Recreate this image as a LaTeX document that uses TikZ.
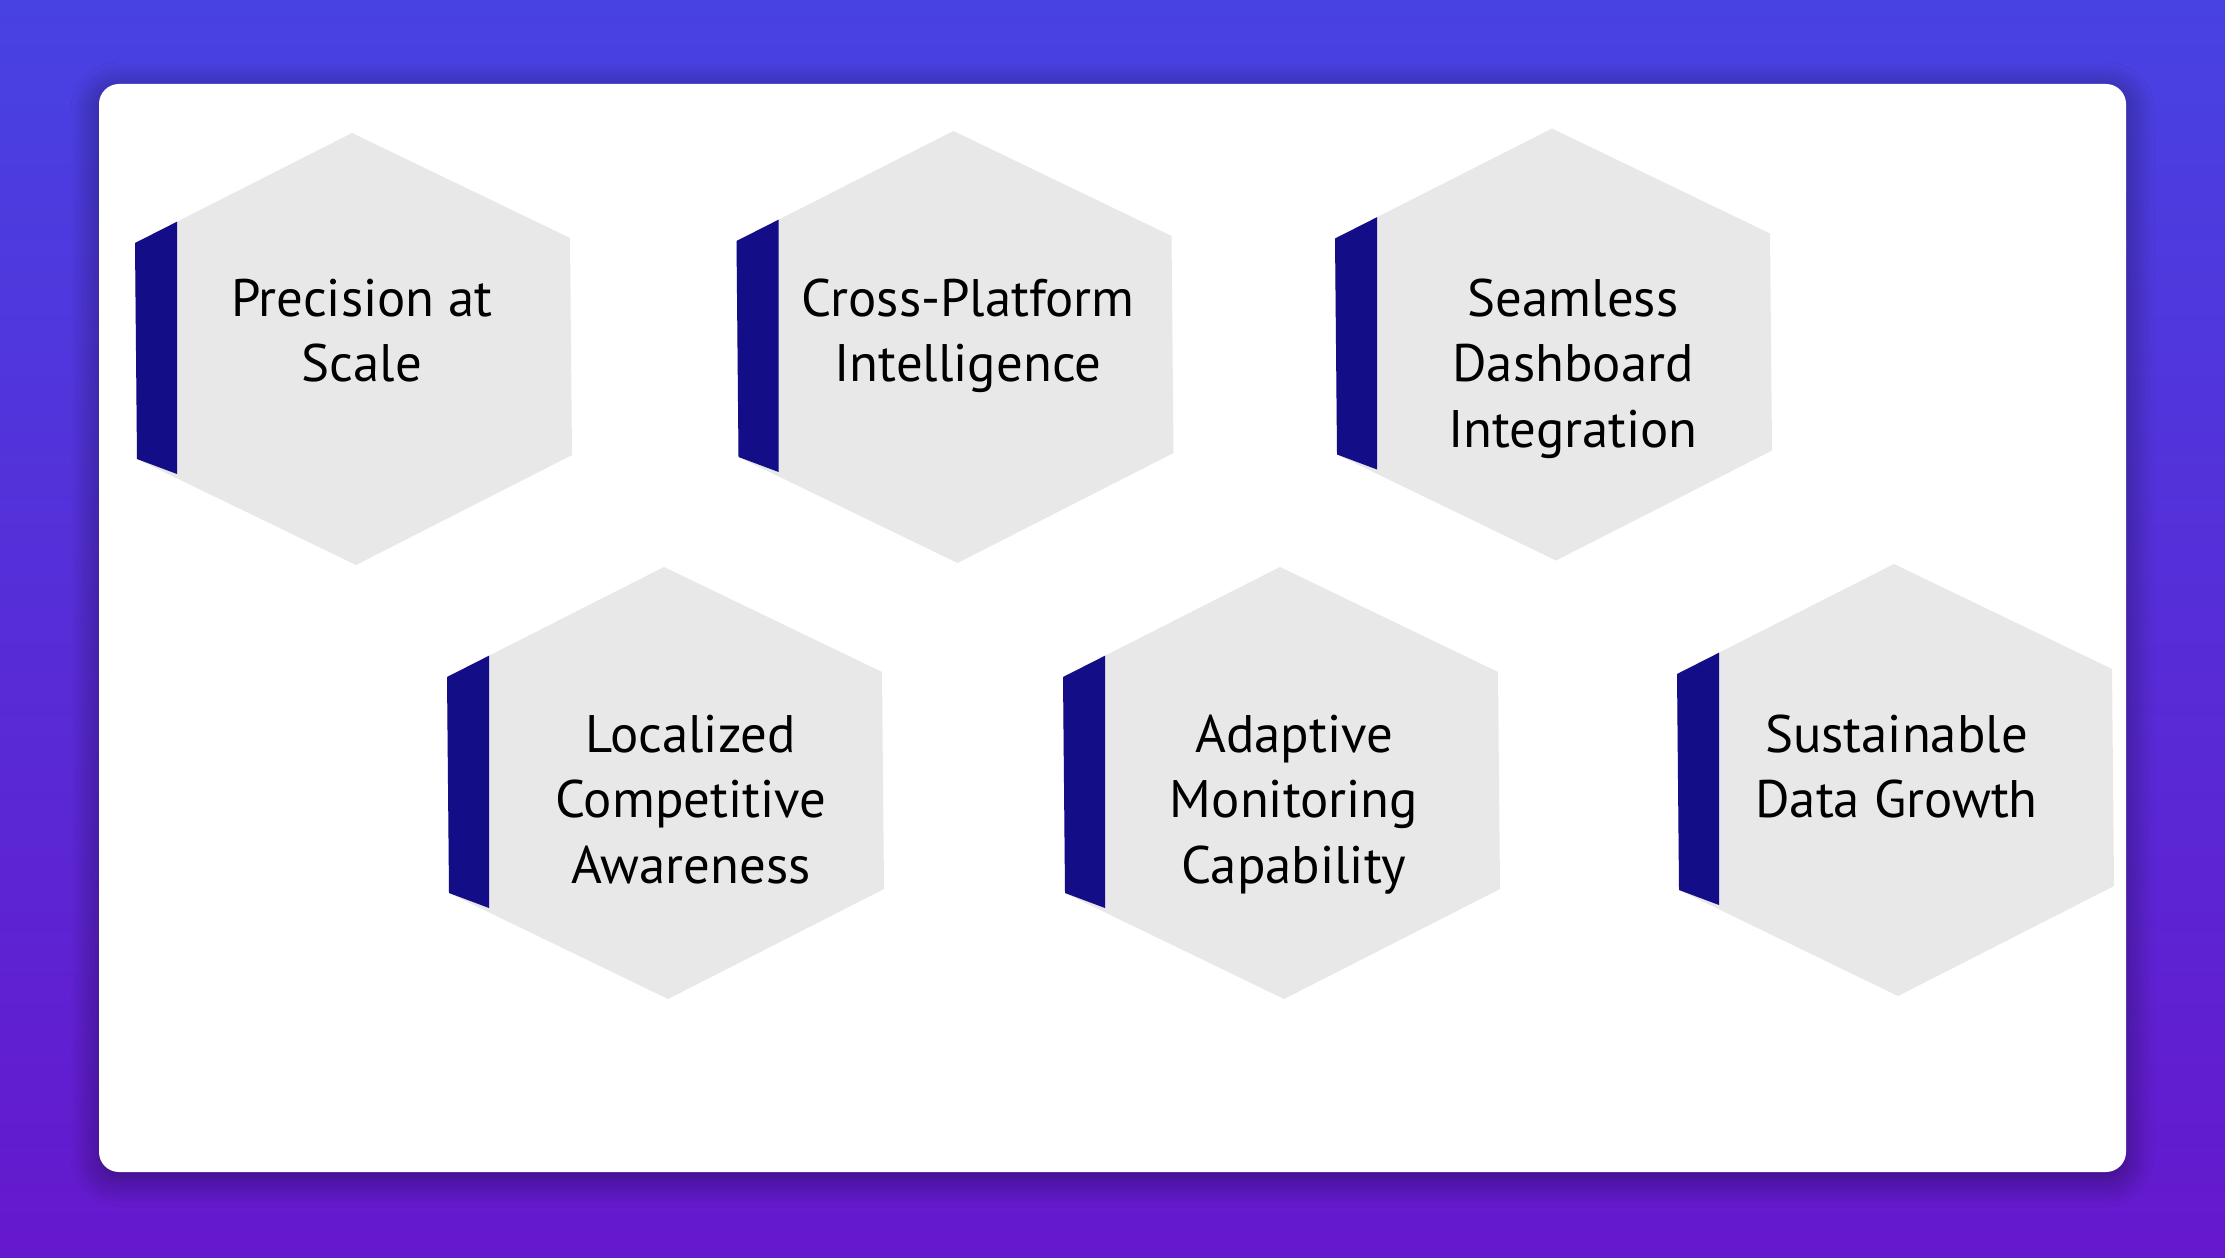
\documentclass[tikz,border=0pt]{standalone}
\usepackage{fontspec}
\setmainfont{PT Sans}
\usetikzlibrary{shadows.blur}
\definecolor{bgtop}{RGB}{72,66,226}
\definecolor{bgbot}{RGB}{101,24,205}
\definecolor{hexfill}{RGB}{232,232,232}
\definecolor{barblue}{RGB}{20,13,136}
\tikzset{
  hexshape/.style={fill=hexfill},
  barshape/.style={fill=barblue},
  hextext/.style={align=center, inner sep=0pt, anchor=base, text=black,
    font=\fontsize{26.4pt}{32.85pt}\selectfont},
  cardshape/.style={fill=white, rounded corners=10pt,
    blur shadow={shadow xshift=0pt, shadow yshift=-3pt, shadow blur radius=14pt, shadow opacity=45, shadow blur steps=14}}
}
\newcommand{\hexitem}[2]{%
  \begin{scope}[shift={(#1,#2)}]
    \fill[hexshape] (0,0) -- (217,-110) -- (435,-5) -- (437,212) -- (221,322) -- (2,216) -- cycle;
    \fill[barshape] (0,0) -- (42,-21.3) -- (42,231) -- (2,216) -- cycle;
  \end{scope}}
\begin{document}
\begin{tikzpicture}[x=0.5pt,y=-0.5pt]
\useasboundingbox (0,0) rectangle (2225,1257);
\shade[top color=bgtop, bottom color=bgbot] (0,0) rectangle (2225,1257);
\fill[cardshape] (99,84) rectangle (2126,1172);
\hexitem{135}{243}
\hexitem{736.5}{241}
\hexitem{1335}{238.5}
\hexitem{447}{677}
\hexitem{1063}{677}
\hexitem{1677}{674}
% anchor=base is the baseline of the last line
\node[hextext] (t1) at (362,381.7) {Precision at\\Scale};
\node[hextext] (t2) at (968,381.7) {Cross-Platform\\Intelligence};
\node[hextext] (t3) at (1573,447.4) {Seamless\\Dashboard\\Integration};
\node[hextext] (t4) at (691,883.4) {Localized\\Competitive\\Awareness};
\node[hextext] (t5) at (1294,883.4) {Adaptive\\Monitoring\\Capability};
\node[hextext] (t6) at (1896.5,817.7) {Sustainable\\Data Growth};
\end{tikzpicture}
\end{document}
